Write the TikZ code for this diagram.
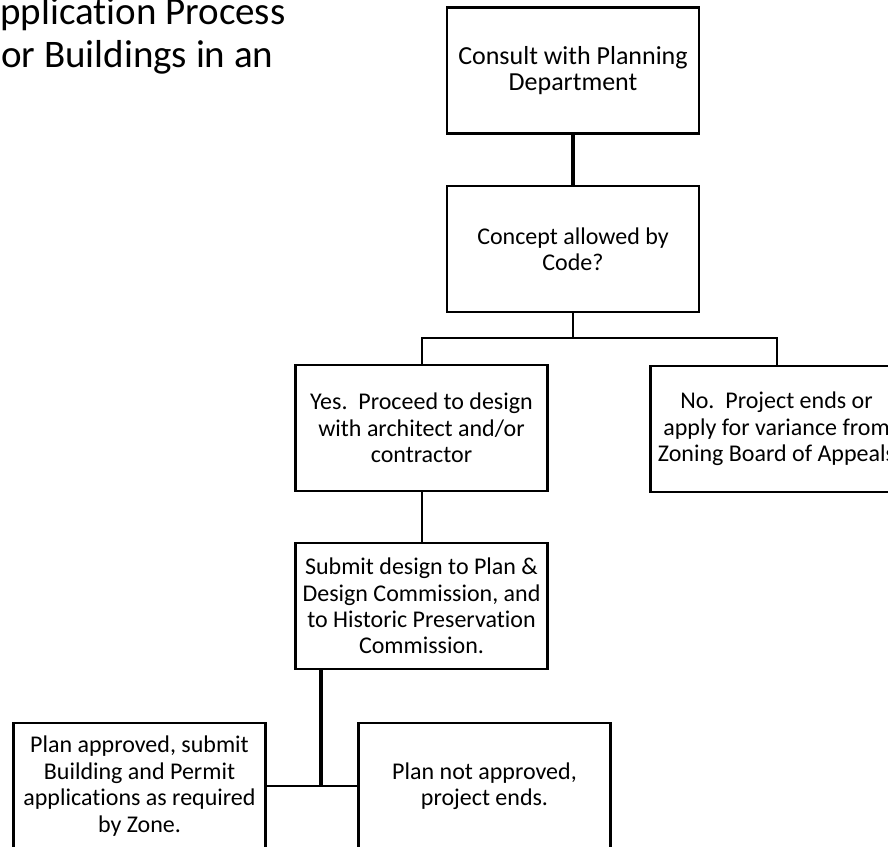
\documentclass[tikz,border=0pt]{standalone}
\usepackage{fontspec}
\setmainfont{Carlito}[Ligatures=NoCommon]
\begin{document}
\begin{tikzpicture}[x=1pt,y=-1pt,
  flowbox/.style={draw=black, line width=2.2pt, rectangle, minimum width=252pt, minimum height=126pt,
    inner sep=0pt, align=center, font=\fontsize{24}{26.4}\selectfont},
  bigbox/.style={flowbox, font=\fontsize{26}{26.8}\selectfont},
  thinline/.style={line width=2pt, black},
  thickline/.style={line width=3.2pt, black},
  titletext/.style={inner sep=0pt, anchor=base west, font=\fontsize{39}{43}\selectfont}]
\useasboundingbox (0,0) rectangle (888,846);
\clip (0,0) rectangle (888,846);
\fill[white] (0,0) rectangle (888,846);
% title fragments
\node[titletext] (t1) at (0,24) {pplication Process};
\node[titletext] (t2) at (1,67) {or Buildings in an};
% boxes
\node[bigbox] (consult) at (573,70.5) {Consult with Planning\\Department};
\node[flowbox] (concept) at (573,249) {Concept allowed by\\Code?};
\node[flowbox] (yes) at (421.5,428) {Yes.\ \ Proceed to design\\with architect and/or\\contractor};
\node[flowbox] (no) at (776.5,429) {No.\ \ Project ends or\\apply for variance from\\Zoning Board of Appeals};
\node[flowbox] (submit) at (421.5,606) {Submit design to Plan \&\\Design Commission, and\\to Historic Preservation\\Commission.};
\node[flowbox] (approved) at (139.5,786) {Plan approved, submit\\Building and Permit\\applications as required\\by Zone.};
\node[flowbox] (notapp) at (484.5,786) {Plan not approved,\\project ends.};
% connectors
\coordinate (br) at (573,338);
\coordinate (jn) at (321,786);
\draw[thickline] (consult.south) -- (concept.north);
\draw[thinline] (concept.south) -- (br);
\draw[thinline] (yes.north) |- (br) -| (no.north);
\draw[thinline] (yes.south) -- (submit.north);
\draw[thickline] (submit.south -| jn) -- (jn);
\draw[thinline] (approved.east) -- (jn) -- (notapp.west);
\end{tikzpicture}
\end{document}
